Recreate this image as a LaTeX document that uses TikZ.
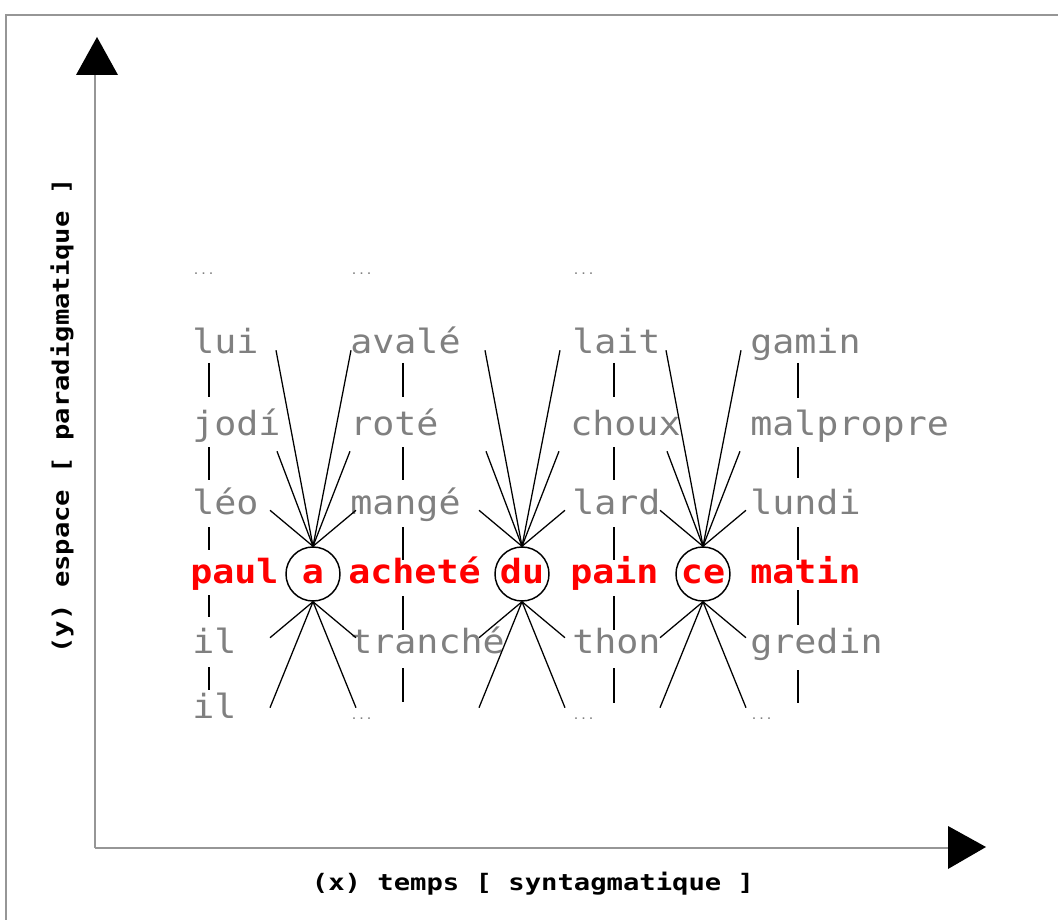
\documentclass[tikz,border=0pt]{standalone}
\usepackage{fontspec}
\usetikzlibrary{calc}
\newfontfamily\wf[FakeStretch=1.1]{DejaVu Sans Mono}
\newfontfamily\af[FakeStretch=1.2]{DejaVu Sans Mono}
\definecolor{wgray}{RGB}{128,128,128}
\definecolor{framegray}{RGB}{150,150,150}
\definecolor{wred}{RGB}{255,0,0}
\tikzset{
  word/.style={anchor=mid west, inner sep=0pt, text=wgray, font=\wf\fontsize{25}{30}\selectfont},
  key/.style={anchor=mid west, inner sep=0pt, text=wred, font=\wf\bfseries\fontsize{25}{30}\selectfont},
  keyc/.style={anchor=mid, inner sep=0pt, text=wred, font=\wf\bfseries\fontsize{25}{30}\selectfont},
  dots/.style={anchor=mid west, inner sep=0pt, text=wgray, font=\wf\fontsize{8.5}{10}\selectfont},
  circ/.style={circle, draw=black, line width=1.1pt, minimum size=40.5pt, inner sep=0pt},
  fan/.style={draw=black, line width=0.95pt},
  vdash/.style={draw=black, line width=1pt},
  axisline/.style={draw=framegray, line width=0.9pt},
  frameline/.style={draw=framegray, line width=1.2pt},
  axislabel/.style={inner sep=0pt, text=black, font=\af\bfseries\fontsize{17}{20}\selectfont}
}
\begin{document}
\begin{tikzpicture}[x=0.75pt,y=-0.75pt]
\useasboundingbox (0,0) rectangle (1058,920);
% frame
\draw[frameline] (6,925) -- (6,15) -- (1065,15);
% axes
\coordinate (O) at (95,848);
\coordinate (Ytop) at (95,74);
\coordinate (Xend) at (950,848);
\draw[axisline] (O) -- (Ytop);
\draw[axisline] (O) -- (Xend);
\fill[black] (76,75) -- (97,37) -- (118,75) -- cycle;
\fill[black] (948,826) -- (986,847) -- (948,869) -- cycle;
\node[axislabel] (xlab) at (533,884) {(x) temps [ syntagmatique ]};
\node[axislabel, rotate=90] (ylab) at (62,416) {(y) espace [ paradigmatique ]};

% column 1
\node[dots] (d1) at (192,272) {...};
\node[word] (lui) at (192,351) {lui};
\node[word] (jodi) at (192,433) {jodí};
\node[word] (leo) at (192,512) {léo};
\node[key] (paul) at (190,581) {paul};
\node[word] (il1) at (192,651) {il};
\node[word] (il2) at (192,716) {il};
% column 2
\node[dots] (d2) at (350,272) {...};
\node[word] (avale) at (350,351) {avalé};
\node[word] (rote) at (350,433) {roté};
\node[word] (mange) at (350,512) {mangé};
\node[key] (achete) at (348,581) {acheté};
\node[word] (tranche) at (350,651) {tranché};
\node[dots] (d2b) at (350,717) {...};
% column 3
\node[dots] (d3) at (572,272) {...};
\node[word] (lait) at (572,351) {lait};
\node[word] (choux) at (570,433) {choux};
\node[word] (lard) at (572,512) {lard};
\node[key] (pain) at (570,581) {pain};
\node[word] (thon) at (572,651) {thon};
\node[dots] (d3b) at (572,717) {...};
% column 4
\node[word] (gamin) at (750,351) {gamin};
\node[word] (malpropre) at (750,433) {malpropre};
\node[word] (lundi) at (750,512) {lundi};
\node[key] (matin) at (750,581) {matin};
\node[word] (gredin) at (750,651) {gredin};
\node[dots] (d4b) at (750,717) {...};

% circled words
\node[circ] (a) at (313,574) {};
\node[circ] (du) at (522,574) {};
\node[circ] (ce) at (703,574) {};
\node[keyc] (a-t) at (313,581) {a};
\node[keyc] (du-t) at (522,581) {du};
\node[keyc] (ce-t) at (703,581) {ce};

% fans
\foreach \c in {a,du,ce} {
  \foreach \dx/\dy [count=\i] in {-37/-196, 38/-196, -36/-95, 37/-95, -43/-36, 43/-36} {
    \coordinate (\c-t\i) at ($(\c.north)+(\dx,\dy)$);
    \draw[fan] (\c.north) -- (\c-t\i);
  }
  \foreach \dx/\dy [count=\i] in {-43/36, 43/36, -43/106, 43/106} {
    \coordinate (\c-b\i) at ($(\c.south)+(\dx,\dy)$);
    \draw[fan] (\c.south) -- (\c-b\i);
  }
}

% vertical dashes
\foreach \x/\ya/\yb in {209/363/397, 209/447/480, 209/527/550, 209/595/617, 209/667/690,
  403/363/397, 403/447/480, 403/527/560, 403/596/630, 403/668/702,
  614/363/397, 614/447/480, 614/527/560, 614/596/630, 614/668/703,
  798/363/398, 798/447/478, 798/527/560, 798/590/625, 798/670/703} {
  \draw[vdash] (\x,\ya) -- (\x,\yb);
}
\end{tikzpicture}
\end{document}
